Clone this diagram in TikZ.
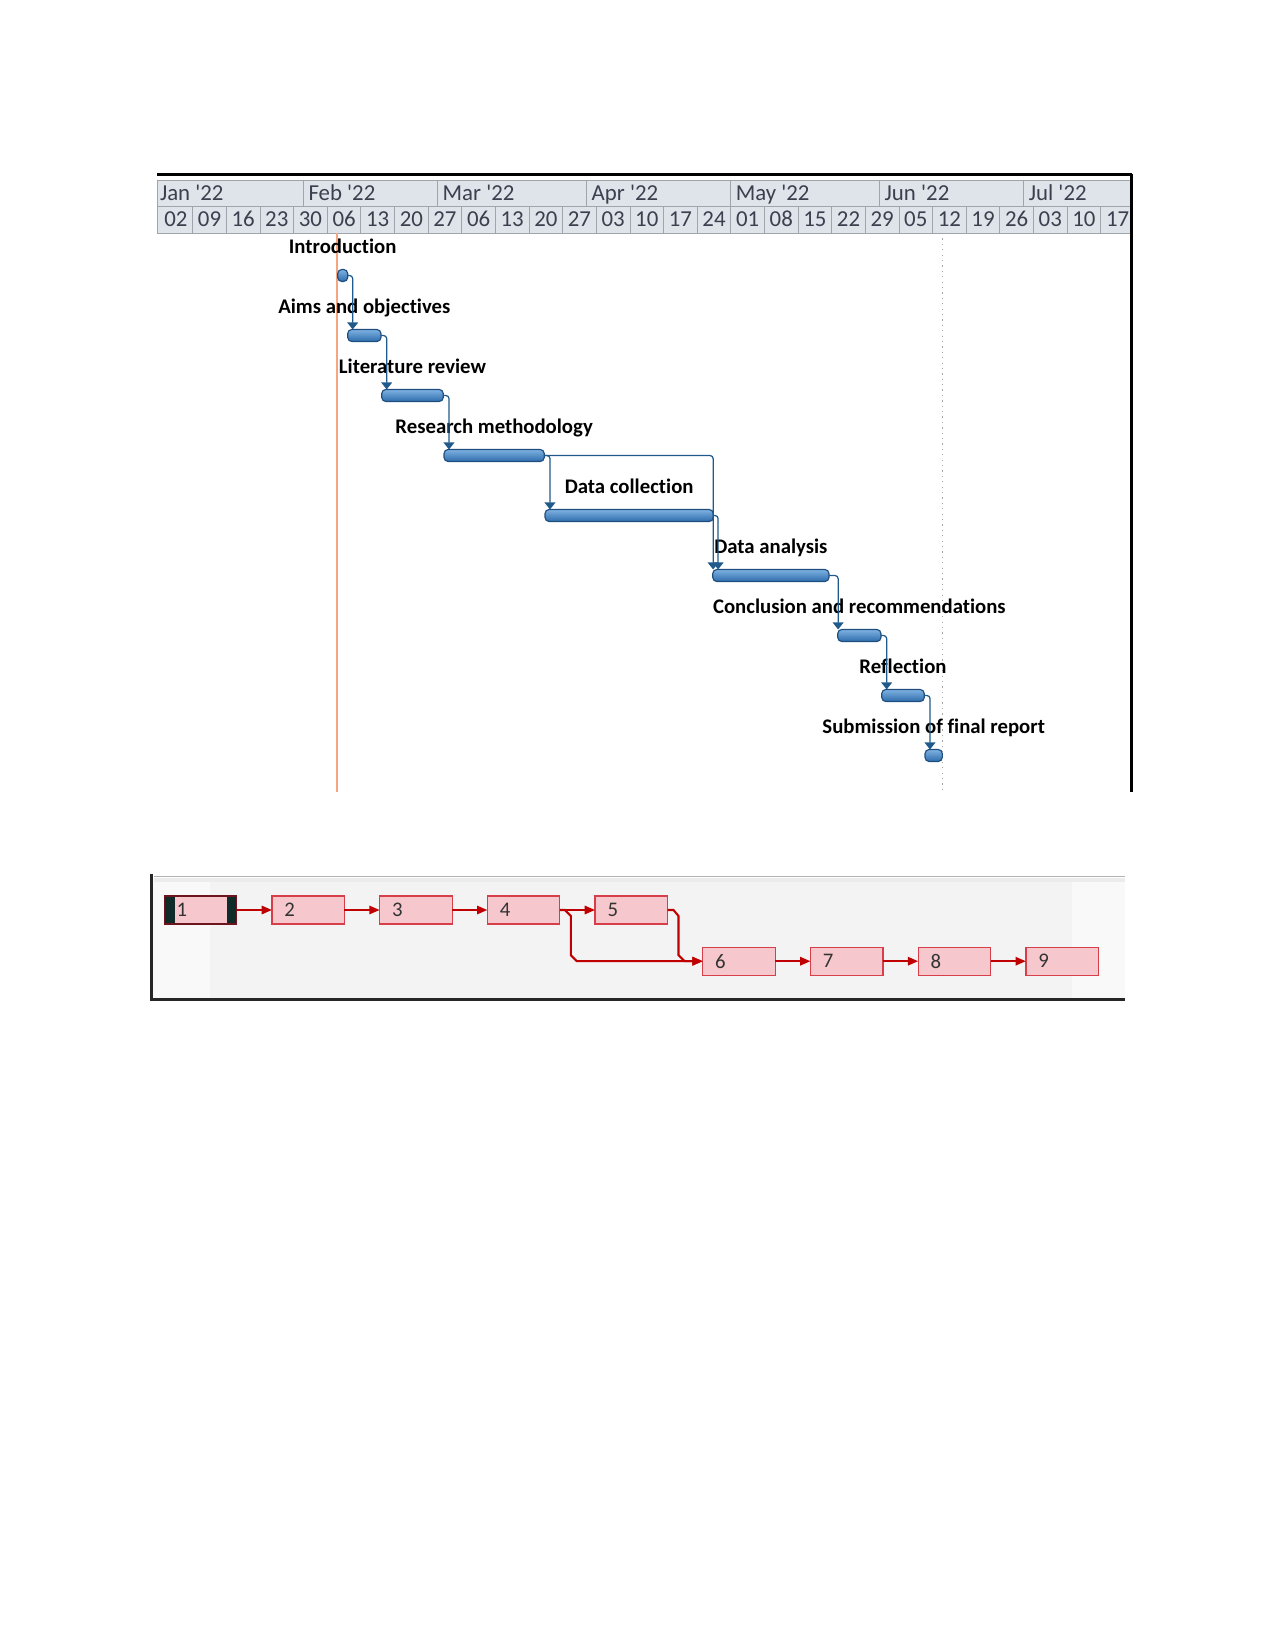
\documentclass[tikz,border=0pt]{standalone}
\usepackage{fontspec}
\setmainfont{Carlito}[Ligatures={TeX,NoCommon}]
\usepackage{tikz}
\usetikzlibrary{arrows.meta,positioning}

\definecolor{hdrfill}{RGB}{223,227,234}
\definecolor{hdrline}{RGB}{160,164,172}
\definecolor{hdrtext}{RGB}{58,64,78}
\definecolor{bartop}{RGB}{128,178,226}
\definecolor{barbot}{RGB}{44,108,172}
\definecolor{barline}{RGB}{30,78,125}
\definecolor{linkblue}{RGB}{32,90,140}
\definecolor{todayline}{RGB}{245,166,128}
\definecolor{netred}{RGB}{192,0,0}
\definecolor{boxfill}{RGB}{246,200,205}
\definecolor{boxline}{RGB}{214,62,74}
\definecolor{firstline}{RGB}{110,20,30}
\definecolor{nodark}{RGB}{16,44,40}
\definecolor{netbg}{RGB}{243,243,243}
\definecolor{netbgside}{RGB}{249,249,249}

\tikzset{
  every node/.append style={inner sep=0pt, outer sep=0pt},
  hdrtxt/.style={font=\fontsize{11}{13}\selectfont, text=hdrtext},
  bar/.style={draw=barline, line width=0.55pt, rounded corners=2pt,
    top color=bartop, bottom color=barbot, minimum height=5.8pt, anchor=west},
  tasklabel/.style={font=\bfseries\fontsize{10}{12}\selectfont, text=black},
  link/.style={draw=linkblue, line width=0.6pt, rounded corners=1.5pt,
    -{Triangle[width=5.2pt,length=3.4pt]}},
  netbox/.style={draw=boxline, fill=boxfill, line width=0.6pt, text width=22.9pt,
    inner xsep=6pt, minimum height=13.5pt, align=left,
    font=\fontsize{10}{12}\selectfont, text=black!80},
  netlink/.style={draw=netred, line width=1pt, -{Triangle[width=4pt,length=5pt]}},
}

\begin{document}
\begin{tikzpicture}[x=0.4818pt, y=-0.4818pt]
    \useasboundingbox (0,0) rectangle (1275,1651);

    % ---- Gantt chart: timescale ----
    \fill[hdrfill] (157,180) rectangle (1131,233);
    \draw[hdrline] (157,180) -- (1131,180) (157,206.5) -- (1131,206.5) (157,233) -- (1131,233);
    \draw[hdrline] (157,180) -- (157,233);
    \foreach \x in {303.2,437.7,586.7,730.8,879.7,1023.8}
        \draw[hdrline] (\x,180) -- (\x,206.5);
    \foreach \k in {1,...,28}
        \draw[hdrline] ({159.1+33.63*\k},206.5) -- ++(0,26.5);
    \foreach \x/\m in {160/Jan,308.5/Feb,442.7/Mar,591.7/Apr,735.8/May,884.7/Jun,1028.8/Jul}
        \node[hdrtxt, anchor=base west] (m\m) at (\x,201) {\m\ \textquotesingle 22};
    \foreach \d [count=\k from 0] in {02,09,16,23,30,06,13,20,27,06,13,20,27,03,10,17,24,01,08,15,22,29,05,12,19,26,03,10,17}
        \node[hdrtxt, anchor=base] (d\k) at ({159.1+33.63*(\k+0.5)},227) {\d};
    % frame
    \draw[line width=1pt] (157,174.5) -- (1131.5,174.5);
    \draw[line width=1.2pt] (1131.5,174) -- (1131.5,792);
    % today line and status date
    \draw[todayline, line width=1pt] (337.3,233) -- (337.3,792);
    \draw[gray!70, dotted, line width=0.6pt] (942.7,233) -- (942.7,792);

    % ---- Gantt chart: task bars ----
    \node[bar, minimum width=4.82pt] (intro) at (337.7,275.5) {};
    \node[bar, minimum width=16.04pt] (aims) at (347.7,335.5) {};
    \node[bar, minimum width=29.68pt] (lit) at (381.7,395.5) {};
    \node[bar, minimum width=48.32pt] (meth) at (444,455.5) {};
    \node[bar, minimum width=81.09pt] (coll) at (545,515.5) {};
    \node[bar, minimum width=56.03pt] (anal) at (712.7,575.5) {};
    \node[bar, minimum width=20.86pt] (concl) at (837.7,635.5) {};
    \node[bar, minimum width=20.52pt] (refl) at (881.7,695.5) {};
    \node[bar, minimum width=8.34pt] (subm) at (925,755.5) {};

    \node[tasklabel, above=7.5pt of intro, anchor=base] (introlbl) {Introduction};
    \node[tasklabel, above=7.5pt of aims, anchor=base] (aimslbl) {Aims and objectives};
    \node[tasklabel, above=7.5pt of lit, anchor=base] (litlbl) {Literature review};
    \node[tasklabel, above=7.5pt of meth, anchor=base] (methlbl) {Research methodology};
    \node[tasklabel, above=7.5pt of coll, anchor=base] (colllbl) {Data collection};
    \node[tasklabel, above=7.5pt of anal, anchor=base] (anallbl) {Data analysis};
    \node[tasklabel, above=7.5pt of concl, anchor=base] (concllbl) {Conclusion and recommendations};
    \node[tasklabel, above=7.5pt of refl, anchor=base] (refllbl) {Reflection};
    \node[tasklabel, above=7.5pt of subm, anchor=base] (submlbl) {Submission of final report};

    % finish-to-start links
    \draw[link] (intro.east) -| ([xshift=2.4pt]aims.north west);
    \draw[link] (aims.east) -| ([xshift=2.4pt]lit.north west);
    \draw[link] (lit.east) -| ([xshift=2.4pt]meth.north west);
    \draw[link] (meth.east) -| ([xshift=2.4pt]coll.north west);
    \draw[link] (meth.east) -| ([xshift=0.2pt]anal.north west);
    \draw[link] (coll.east) -| ([xshift=2.6pt]anal.north west);
    \draw[link] (anal.east) -| ([xshift=0.2pt]concl.north west);
    \draw[link] (concl.east) -| ([xshift=2.4pt]refl.north west);
    \draw[link] (refl.east) -| ([xshift=2.4pt]subm.north west);

    % ---- network diagram ----
    \fill[netbgside] (153,882) rectangle (1125,998);
    \fill[netbg] (210,882) rectangle (1072,998);
    \draw[gray!60, line width=0.5pt] (154,876.5) -- (1125,876.5);
    \fill[gray!15] (154,877.5) rectangle (1125,882);
    \draw[black!85, line width=1.3pt] (151.8,874) -- (151.8,1000.5);
    \draw[black!85, line width=1.4pt] (151,999.3) -- (1125,999.3);

    \node[netbox, draw=firstline] (n1) at (200.5,910) {1};
    \fill[nodark] (n1.north west) rectangle ([xshift=5.4pt]n1.south west);
    \fill[nodark] ([xshift=-4.9pt]n1.north east) rectangle (n1.south east);
    \draw[firstline, line width=0.6pt] (n1.north west) rectangle (n1.south east);
    \node[netbox] (n2) at (308.2,910) {2};
    \node[netbox] (n3) at (415.9,910) {3};
    \node[netbox] (n4) at (523.6,910) {4};
    \node[netbox] (n5) at (631.3,910) {5};
    \node[netbox] (n6) at (739.0,961.2) {6};
    \node[netbox] (n7) at (846.7,961.2) {7};
    \node[netbox] (n8) at (954.4,961.2) {8};
    \node[netbox] (n9) at (1062.1,961.2) {9};

    \draw[netlink] (n1) -- (n2);
    \draw[netlink] (n2) -- (n3);
    \draw[netlink] (n3) -- (n4);
    \draw[netlink] (n4) -- (n5);
    \draw[netlink] (n4.east) -- ++(5,0) -- ++(6,6) -- ++(0,39.2) -- ++(6,6) -- (n6.west);
    \draw[netlink] (n5.east) -- ++(6,0) -- ++(5,6) -- ++(0,39.2) -- ++(6,6) -- (n6.west);
    \draw[netlink] (n6) -- (n7);
    \draw[netlink] (n7) -- (n8);
    \draw[netlink] (n8) -- (n9);
\end{tikzpicture}
\end{document}
